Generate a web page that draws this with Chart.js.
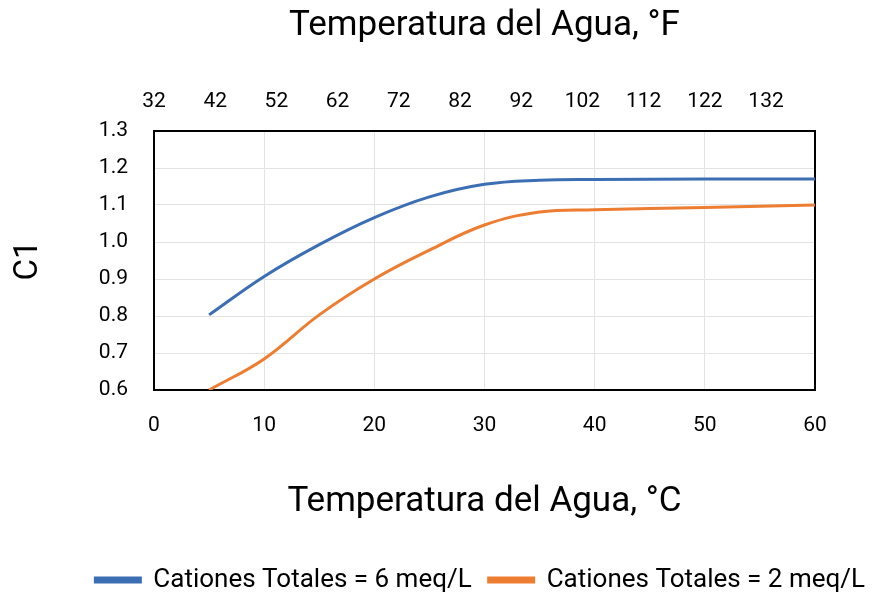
<!DOCTYPE html>
<html>
<head>
<meta charset="utf-8">
<script src="https://cdn.jsdelivr.net/npm/chart.js@4"></script>
<style>
  body { margin: 0; background: #fff; }
  #wrap { width: 872px; height: 594px; }
</style>
</head>
<body>
<div id="wrap"><canvas id="c1Chart"></canvas></div>
<script>
// temperatura en °C y valores de C1
var tempC = [5, 10, 15, 20, 25, 30, 35, 40, 50, 60];
var c1Seis = [0.803, 0.907, 0.993, 1.066, 1.122, 1.156, 1.167, 1.169, 1.17, 1.17];
var c1Dos = [0.6, 0.684, 0.803, 0.9, 0.978, 1.046, 1.081, 1.087, 1.093, 1.1];
var fTicks = [32, 42, 52, 62, 72, 82, 92, 102, 112, 122, 132];

Chart.defaults.font.family = 'Roboto';
Chart.defaults.color = '#000';

function pts(ys) {
  return tempC.map(function (t, i) { return { x: t, y: ys[i] }; });
}

var ctx = document.getElementById('c1Chart').getContext('2d');
var chart = new Chart(ctx, {
  type: 'scatter',
  data: {
    datasets: [{
      label: 'Cationes Totales = 6 meq/L',
      data: pts(c1Seis),
      showLine: true,
      borderColor: '#3C6EB4',
      backgroundColor: '#3C6EB4',
      borderWidth: 3,
      pointRadius: 0,
      tension: 0.4
    }, {
      label: 'Cationes Totales = 2 meq/L',
      data: pts(c1Dos),
      showLine: true,
      borderColor: '#ED7D31',
      backgroundColor: '#ED7D31',
      borderWidth: 3,
      pointRadius: 0,
      tension: 0.4
    }]
  },
  options: {
    responsive: true,
    maintainAspectRatio: false,
    animation: false,
    layout: { padding: { bottom: -9, right: -10 } },
    plugins: {
      tooltip: { enabled: false },
      legend: {
        position: 'bottom',
        align: 'end',
        labels: {
          boxWidth: 45,
          boxHeight: 4,
          padding: 17,
          font: { size: 26 }
        }
      }
    },
    scales: {
      x: {
        type: 'linear',
        position: 'bottom',
        min: 0, max: 60,
        ticks: { stepSize: 10, padding: 23, font: { size: 21 } },
        grid: { color: '#e3e3e3', drawTicks: false },
        border: { color: '#000', width: 2 },
        title: { display: true, text: 'Temperatura del Agua, °C', font: { size: 35 }, padding: { top: 0, bottom: 27 } },
        afterFit: function (s) { s.height = 160; }
      },
      x2: {
        type: 'linear',
        position: 'top',
        min: 32, max: 140,
        afterBuildTicks: function (s) {
          s.ticks = fTicks.map(function (v) { return { value: v }; });
        },
        ticks: { padding: 17, font: { size: 21 } },
        grid: { display: false, drawTicks: false },
        border: { color: '#000', width: 2 },
        title: { display: true, text: 'Temperatura del Agua, °F', font: { size: 35 }, padding: { top: 5, bottom: 0 } },
        afterFit: function (s) { s.height = 131; }
      },
      y: {
        type: 'linear',
        position: 'left',
        min: 0.6, max: 1.3,
        ticks: {
          stepSize: 0.1, padding: 26, font: { size: 21 },
          callback: function (v) { return v.toFixed(1); }
        },
        grid: { color: '#e3e3e3', drawTicks: false },
        border: { color: '#000', width: 2 },
        title: { display: true, text: 'C1', font: { size: 33 }, padding: { top: 9, bottom: 0 } },
        afterFit: function (s) { s.width = 154; }
      },
      y2: {
        type: 'linear',
        position: 'right',
        ticks: { display: false },
        grid: { display: false, drawTicks: false },
        border: { color: '#000', width: 2 },
        afterFit: function (s) { s.width = 67; }
      }
    }
  }
});
</script>
</body>
</html>
